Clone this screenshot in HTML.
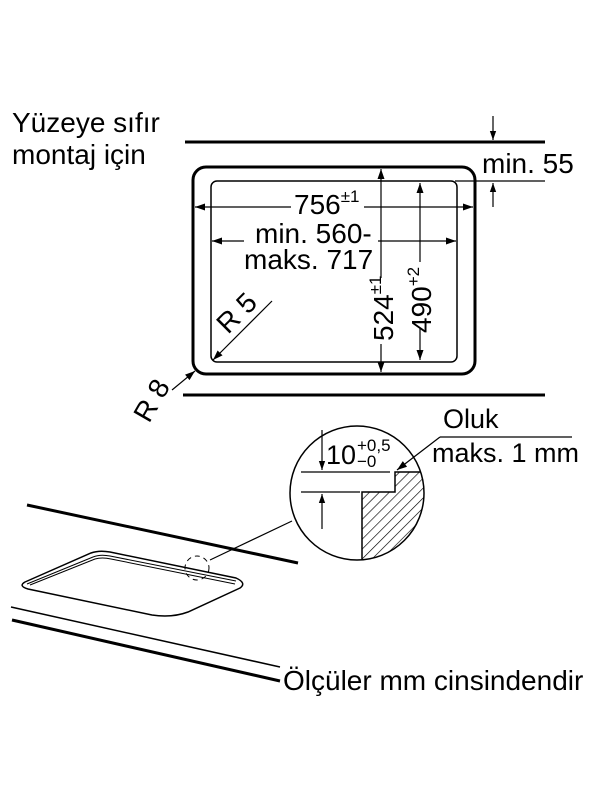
<!DOCTYPE html>
<html><head><meta charset="utf-8"><style>
html,body{margin:0;padding:0;background:#fff}
svg{display:block}
text{font-family:"Liberation Sans",sans-serif;fill:#000}
</style></head><body>
<svg width="600" height="800" viewBox="0 0 600 800" xmlns="http://www.w3.org/2000/svg">
<defs>
<marker id="a" viewBox="0 0 10 10" refX="10" refY="5" markerWidth="9" markerHeight="9" markerUnits="userSpaceOnUse" orient="auto-start-reverse"><path d="M0,1.5 L10,5 L0,8.5 Z" fill="#000"/></marker>
<marker id="b" viewBox="0 0 10 10" refX="10" refY="5" markerWidth="14" markerHeight="10" markerUnits="userSpaceOnUse" orient="auto-start-reverse"><path d="M0,1.5 L10,5 L0,8.5 Z" fill="#000"/></marker>
<pattern id="h" width="7" height="7" patternUnits="userSpaceOnUse" patternTransform="rotate(45)"><line x1="0" y1="0" x2="0" y2="7" stroke="#000" stroke-width="1.3"/></pattern>
<clipPath id="c"><circle cx="357" cy="493" r="67"/></clipPath>
</defs>
<g font-size="28">
<text x="12" y="132">Yüzeye sıfır</text>
<text x="12" y="164">montaj için</text>
<text x="482" y="173">min. 55</text>
</g>
<line x1="185" y1="142" x2="545" y2="142" stroke="#000" stroke-width="3"/>
<line x1="183" y1="395" x2="545" y2="395" stroke="#000" stroke-width="3"/>
<line x1="455" y1="181" x2="545" y2="181" stroke="#000" stroke-width="1.2"/>
<line x1="493" y1="116" x2="493" y2="140" stroke="#000" stroke-width="1.2" marker-end="url(#a)"/>
<line x1="493" y1="207" x2="493" y2="183" stroke="#000" stroke-width="1.2" marker-end="url(#a)"/>
<rect x="193" y="167" width="282" height="207" rx="13" fill="none" stroke="#000" stroke-width="3"/>
<rect x="211" y="181" width="246" height="181" rx="6" fill="none" stroke="#000" stroke-width="1.5"/>
<line x1="195" y1="207" x2="473" y2="207" stroke="#000" stroke-width="1.2" marker-start="url(#b)" marker-end="url(#b)"/>
<line x1="212" y1="241" x2="456" y2="241" stroke="#000" stroke-width="1.2" marker-start="url(#b)" marker-end="url(#b)"/>
<line x1="381" y1="169" x2="381" y2="372" stroke="#000" stroke-width="1.2" marker-start="url(#b)" marker-end="url(#b)"/>
<line x1="420" y1="183" x2="420" y2="360" stroke="#000" stroke-width="1.2" marker-start="url(#b)" marker-end="url(#b)"/>
<rect x="291" y="190" width="73" height="28" fill="#fff"/>
<rect x="244" y="222" width="134" height="50" fill="#fff"/>
<rect x="369" y="278" width="26" height="66" fill="#fff"/>
<rect x="406" y="262" width="28" height="66" fill="#fff"/>
<g font-size="28">
<text x="294" y="214">756<tspan font-size="17" dy="-12">±1</tspan></text>
<text x="255" y="243">min. 560-</text>
<text x="244" y="269">maks. 717</text>
<text transform="translate(393,341) rotate(-90)">524<tspan font-size="17" dy="-12">±1</tspan></text>
<text transform="translate(431,333) rotate(-90)">490<tspan font-size="17" dy="-12">+2</tspan></text>
<text transform="translate(228,335) rotate(-45)">R 5</text>
<text transform="translate(149,424) rotate(-60)">R 8</text>
</g>
<line x1="272" y1="301" x2="213" y2="360" stroke="#000" stroke-width="1.2" marker-end="url(#b)"/>
<line x1="172" y1="390" x2="195" y2="371" stroke="#000" stroke-width="1.2" marker-end="url(#b)"/>
<g clip-path="url(#c)">
<path d="M362,560 L362,492 L395,492 L395,472 L430,472 L430,560 Z" fill="url(#h)" stroke="#000" stroke-width="1.5"/>
</g>
<circle cx="357" cy="493" r="67" fill="none" stroke="#000" stroke-width="1.5"/>
<line x1="301" y1="472" x2="390" y2="472" stroke="#000" stroke-width="1.2"/>
<line x1="301" y1="492" x2="360" y2="492" stroke="#000" stroke-width="1.2"/>
<line x1="322" y1="430" x2="322" y2="470" stroke="#000" stroke-width="1.2" marker-end="url(#a)"/>
<line x1="322" y1="529" x2="322" y2="494" stroke="#000" stroke-width="1.2" marker-end="url(#a)"/>
<text x="326" y="464" font-size="27">10</text>
<text x="357" y="451" font-size="17">+0,5</text>
<text x="357" y="467" font-size="17">−0</text>
<text x="443" y="428" font-size="27">Oluk</text>
<text x="432" y="462" font-size="27">maks. 1 mm</text>
<line x1="440" y1="437" x2="572" y2="437" stroke="#000" stroke-width="1.2"/>
<line x1="440" y1="437" x2="397" y2="470" stroke="#000" stroke-width="1.2" marker-end="url(#b)"/>
<line x1="292" y1="521" x2="210" y2="560" stroke="#000" stroke-width="1.2"/>
<circle cx="197" cy="568" r="12" fill="none" stroke="#000" stroke-width="1" stroke-dasharray="5,4"/>
<line x1="27" y1="505" x2="298" y2="563" stroke="#000" stroke-width="3"/>
<line x1="11" y1="607" x2="280" y2="667" stroke="#000" stroke-width="1.5"/>
<line x1="12" y1="620" x2="280" y2="681" stroke="#000" stroke-width="3"/>
<path d="M25,582 L91,553 Q99,550 110,552 L236,578 Q247,583 240,588 L188,612 Q172,618 152,615 L28,589 Q18,586 25,582 Z" fill="none" stroke="#000" stroke-width="1.5"/>
<path d="M27,584 L93,557 Q100,554 110,556 L236,581" fill="none" stroke="#000" stroke-width="1"/>
<path d="M30,585 L95,559 Q102,557 111,559 L235,584" fill="none" stroke="#000" stroke-width="1"/>
<text x="283" y="690" font-size="28">Ölçüler mm cinsindendir</text>
</svg>
</body></html>
